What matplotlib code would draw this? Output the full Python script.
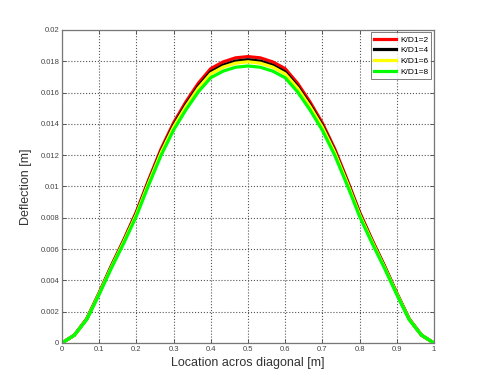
import matplotlib
matplotlib.use("Agg")
import matplotlib.pyplot as plt

plt.rcParams['font.family'] = ['Liberation Sans', 'DejaVu Sans']

x = [0.0, 0.0333, 0.0667, 0.1, 0.1333, 0.1667, 0.2, 0.2333, 0.2667, 0.3, 0.3333,
     0.3667, 0.4, 0.4333, 0.4667, 0.5, 0.5333, 0.5667, 0.6, 0.6333, 0.6667, 0.7,
     0.7333, 0.7667, 0.8, 0.8333, 0.8667, 0.9, 0.9333, 0.9667, 1.0]

half_red = [0.0, 0.0005, 0.00155, 0.0032, 0.00496, 0.00662, 0.00838, 0.01044, 0.01241,
            0.01406, 0.01541, 0.0166, 0.01753, 0.01796, 0.01822, 0.0183]
half_black = [0.0, 0.0005, 0.00153, 0.00317, 0.00491, 0.00654, 0.00828, 0.01032, 0.01226,
              0.0139, 0.01523, 0.0164, 0.01732, 0.01775, 0.01801, 0.0181]
half_yellow = [0.0, 0.0005, 0.00152, 0.00315, 0.00487, 0.0065, 0.00822, 0.01025, 0.01218,
               0.0138, 0.01512, 0.01629, 0.0172, 0.01763, 0.01788, 0.01797]
half_green = [0.0, 0.0005, 0.0015, 0.0031, 0.0048, 0.0064, 0.0081, 0.0101, 0.0120,
              0.0136, 0.0149, 0.01605, 0.01695, 0.01737, 0.01762, 0.0177]

y_red = half_red + half_red[-2::-1]
y_black = half_black + half_black[-2::-1]
y_yellow = half_yellow + half_yellow[-2::-1]
y_green = half_green + half_green[-2::-1]

labels = ['K/D1=2', 'K/D1=4', 'K/D1=6', 'K/D1=8']
colors = ['#ff0000', '#000000', '#ffff00', '#00ff00']
series = [y_red, y_black, y_yellow, y_green]

xticks = [0, 0.1, 0.2, 0.3, 0.4, 0.5, 0.6, 0.7, 0.8, 0.9, 1]
xticklabels = ['0', '0.1', '0.2', '0.3', '0.4', '0.5', '0.6', '0.7', '0.8', '0.9', '1']
yticks = [0, 0.002, 0.004, 0.006, 0.008, 0.01, 0.012, 0.014, 0.016, 0.018, 0.02]
yticklabels = ['0', '0.002', '0.004', '0.006', '0.008', '0.01', '0.012', '0.014',
               '0.016', '0.018', '0.02']

fig = plt.figure(figsize=(4.8, 3.87), dpi=100)
ax = fig.add_axes([0.129, 0.1137, 0.775, 0.8088])

for ys, c, lab in zip(series, colors, labels):
    ax.plot(x, ys, color=c, lw=2.3, label=lab, solid_joinstyle='round')

ax.set_xlim(0, 1)
ax.set_ylim(0, 0.02)
ax.set_xticks(xticks)
ax.set_xticklabels(xticklabels)
ax.set_yticks(yticks)
ax.set_yticklabels(yticklabels)
ax.grid(True, linestyle=':', color='#555555', linewidth=0.8)
ax.tick_params(direction='in', length=3, width=0.6, labelsize=5.5, colors='#444444',
               top=True, right=True, pad=2)
for s in ax.spines.values():
    s.set_color('#777777')
    s.set_linewidth(0.9)

ax.set_xlabel('Location acros diagonal [m]', fontsize=9, color='#333333', labelpad=3)
ax.set_ylabel('Deflection [m]', fontsize=9, color='#333333', labelpad=6)

leg = ax.legend(loc='upper right', fontsize=6, frameon=True, fancybox=False,
                edgecolor='#444444', handlelength=2.6, borderaxespad=0.3,
                labelspacing=0.35, handletextpad=0.5, borderpad=0.4)
leg.get_frame().set_linewidth(0.6)

fig.savefig('out.png', dpi=100)
